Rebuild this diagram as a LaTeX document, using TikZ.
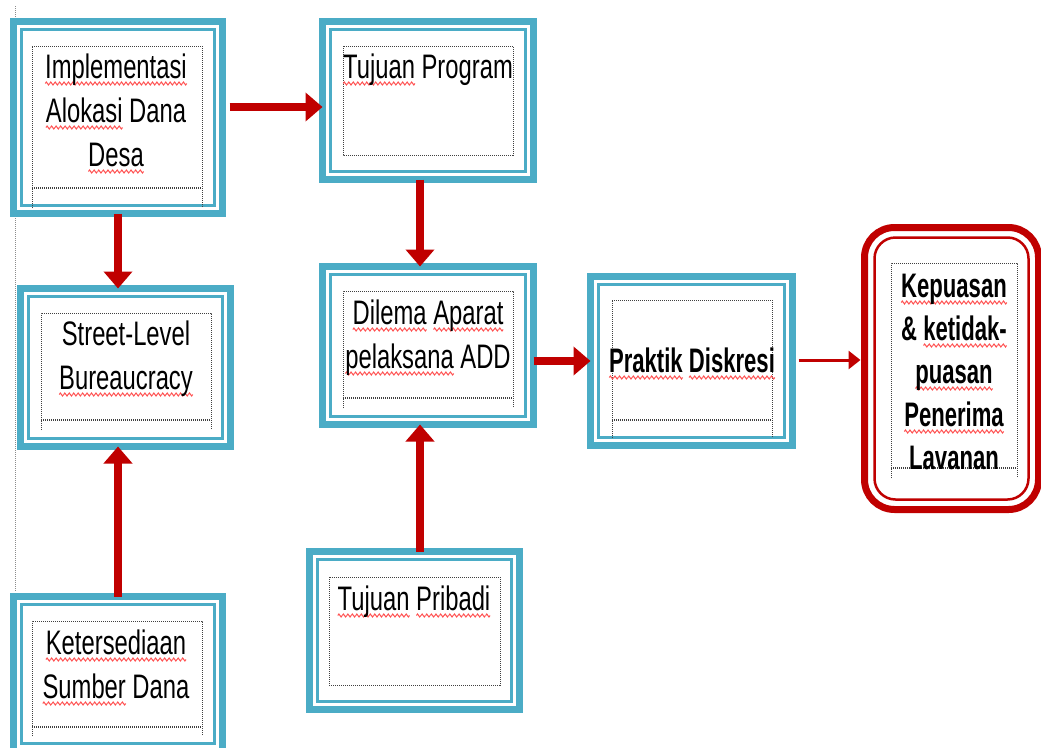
\documentclass[tikz,border=0pt]{standalone}
\usepackage{fontspec}
\setmainfont{Liberation Sans}[FakeStretch=0.7, BoldFeatures={FakeStretch=0.65}]
\usetikzlibrary{arrows.meta}
\definecolor{teal5}{RGB}{75,172,198}
\definecolor{darkred}{RGB}{192,0,0}
\definecolor{wavered}{RGB}{255,80,80}
\newsavebox\wvbox
\newcommand\wv[1]{\setbox0=\hbox{#1}\rlap{\lower7pt\hbox to\wd0{\xleaders\copy\wvbox\hfill}}\box0\relax}
\newcommand\fl{\rule{0pt}{30pt}}
% box: name x1 y1 x2 y2
\newcommand\mkbox[5]{%
  \node[tbox, minimum width={(#4-#2-7)*1pt}, minimum height={(#5-#3-7)*1pt}] (#1) at ({(#2+#4)/2},{(#3+#5)/2}) {};
  \draw[teal5, line width=3pt] ([shift={(8,8)}]#1.north west) rectangle ([shift={(-8,-8)}]#1.south east);
}
% open text frame: x1 y1 x2 ythick yend
\newcommand\dfopen[5]{%
  \draw[dotf] (#1,#5) -- (#1,#2) -- (#3,#2) -- (#3,#5);
  \draw[dotf, line width=2.5pt] (#1,#4) -- (#3,#4);
}
\begin{document}
\sbox\wvbox{\pgfpicture
  \pgfsetlinewidth{1pt}\pgfsetstrokecolor{wavered}%
  \pgfpathmoveto{\pgfpoint{0pt}{0pt}}%
  \pgfpathlineto{\pgfpoint{1.1pt}{1.5pt}}%
  \pgfpathlineto{\pgfpoint{3.3pt}{-1.5pt}}%
  \pgfpathlineto{\pgfpoint{4.4pt}{0pt}}%
  \pgfusepath{stroke}%
  \pgfresetboundingbox
  \pgfpathrectanglecorners{\pgfpoint{0pt}{-1.5pt}}{\pgfpoint{4.4pt}{1.5pt}}%
  \pgfusepath{use as bounding box}%
\endpgfpicture}%
\begin{tikzpicture}[x=1pt,y=-1pt,
  tbox/.style={draw=teal5, line width=7pt, fill=white, inner sep=0pt, outer sep=0pt},
  dotf/.style={draw=black!75, line width=0.8pt, dash pattern=on 1pt off 1pt},
  txt/.style={inner sep=0pt, outer sep=0pt, align=center, anchor=north, font=\fontsize{34}{44}\selectfont},
  btxt/.style={txt, font=\fontsize{34}{43}\selectfont\bfseries},
  redarrow/.style={draw=darkred, line width=8pt, -{Triangle[length=17pt,width=28pt]}},
  thinarrow/.style={draw=darkred, line width=3pt, -{Triangle[length=12pt,width=18pt]}}]
\useasboundingbox (0,0) rectangle (1041,747);
\fill[white] (0,0) rectangle (1041,747);

% left guide line
\draw[dotf, draw=black!45] (15,6) -- (15,592);

% boxes
\mkbox{A}{10}{18}{226}{217}
\mkbox{B}{319}{18}{537}{183}
\mkbox{C}{17}{285}{234}{450}
\mkbox{D}{10}{593}{226}{755}
\mkbox{E}{319}{263}{537}{428}
\mkbox{F}{306}{548}{523}{713}
\mkbox{G}{587}{273}{796}{449}

% red rounded box
\node[draw=darkred, line width=7pt, fill=white, rounded corners=30pt, inner sep=0pt, outer sep=0pt,
      minimum width=174pt, minimum height=282pt] (R) at (951.5,368.5) {};
\draw[darkred, line width=2.5pt, rounded corners=21pt]
  ([shift={(10,10)}]R.north west) rectangle ([shift={(-10,-10)}]R.south east);

% text frames
\dfopen{32}{46}{202}{188}{208}
\draw[dotf] (343,46) rectangle (513,155);
\dfopen{41}{313}{211}{420}{430}
\dfopen{32}{621}{202}{727}{736}
\dfopen{343}{291}{513}{398}{408}
\draw[dotf] (329,577) rectangle (500,685);
\dfopen{612}{300}{772}{420}{438}
\dfopen{891}{263}{1017}{468}{478}

% texts
\node[txt] (tA) at (116,48) {\fl\wv{Implementasi}\\\wv{Alokasi} Dana\\\wv{Desa}};
\node[txt] (tB) at (428,48) {\fl\wv{Tujuan} Program};
\node[txt] (tC) at (126,315) {\fl Street-Level\\\wv{Bureaucracy}};
\node[txt] (tD) at (116,624) {\fl\wv{Ketersediaan}\\\wv{Sumber} Dana};
\node[txt] (tE) at (428,294) {\fl\wv{Dilema} \wv{Aparat}\\\wv{pelaksana} ADD};
\node[txt] (tF) at (414,580) {\fl\wv{Tujuan} \wv{Pribadi}};
\node[btxt] (tG) at (692,342) {\fl\wv{Praktik} \wv{Diskresi}};
\node[btxt] (tR) at (954,267) {\fl\wv{Kepuasan}\\\& \wv{ketidak-}\\\wv{puasan}\\\wv{Penerima}\\Lavanan};

% arrows
\draw[redarrow, shorten <=7pt] ([yshift=10.5pt]A.east) -- ([yshift=10.5pt]A.east -| B.west);
\draw[redarrow] (A.south) -- (A.south |- C.north);
\draw[redarrow] (D.north) -- (D.north |- C.south);
\draw[redarrow] ([xshift=-8pt]B.south) -- ([xshift=-8pt]B.south |- E.north);
\draw[redarrow] ([xshift=5.5pt]F.north) -- ([xshift=5.5pt]F.north |- E.south);
\draw[redarrow] (E.east |- G.west) -- (G.west);
\draw[thinarrow, shorten <=6pt, shorten >=4pt] ([yshift=1pt]G.east) -- ([yshift=1pt]G.east -| R.west);
\end{tikzpicture}
\end{document}
